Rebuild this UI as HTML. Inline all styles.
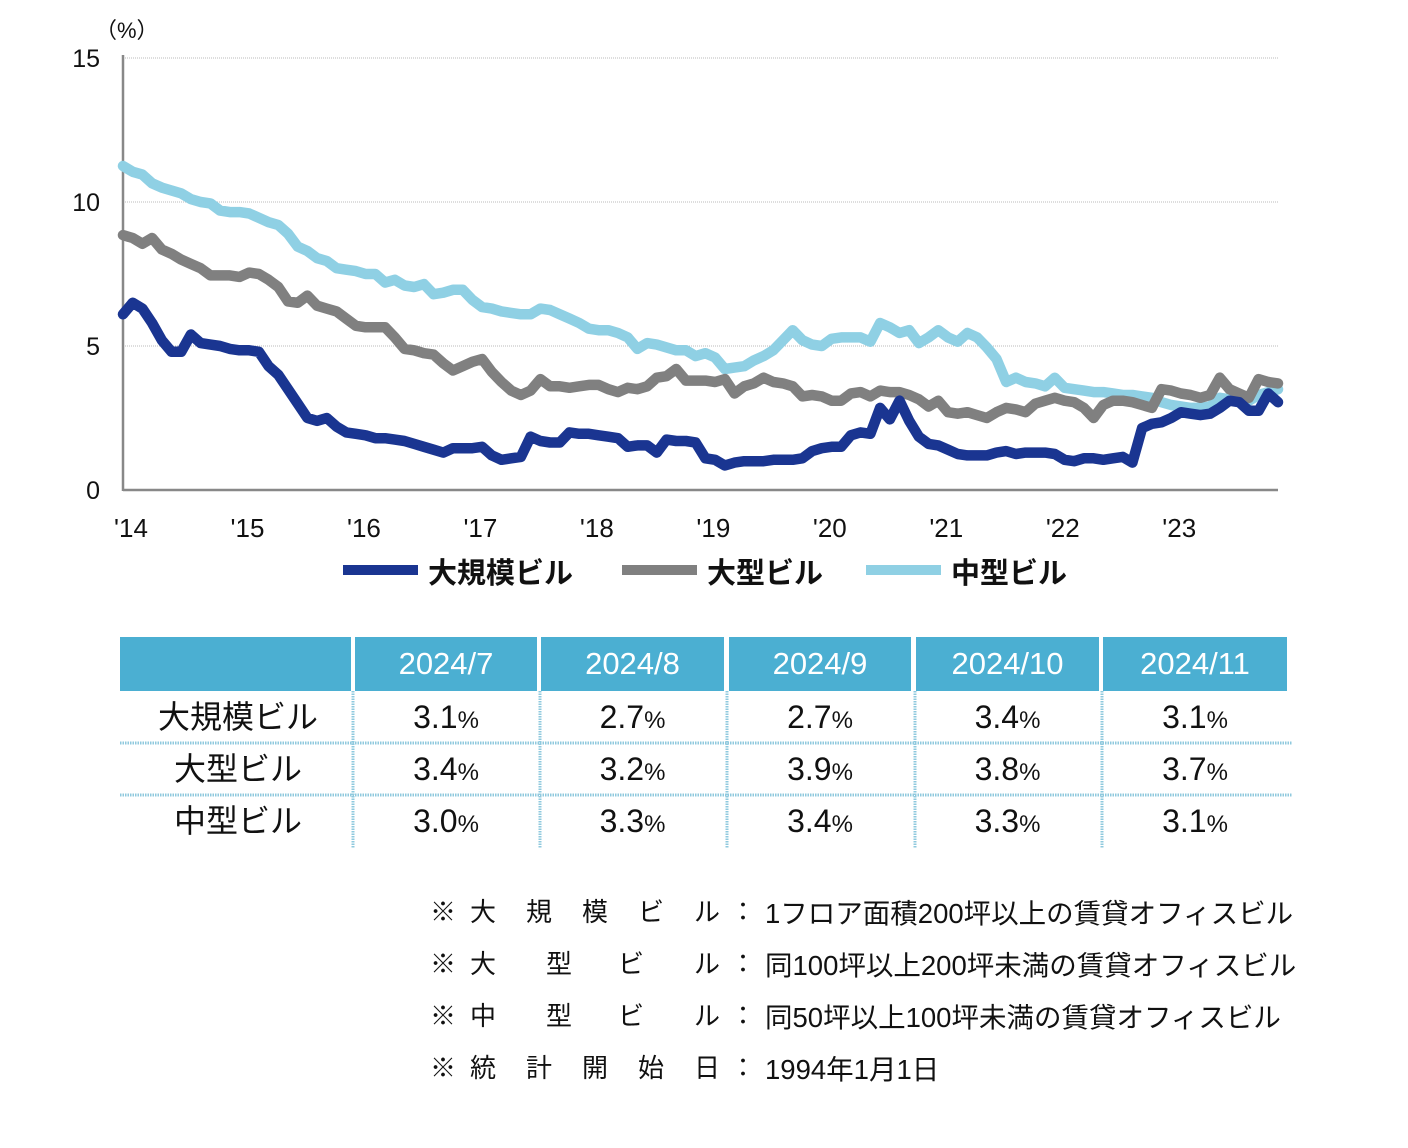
<!DOCTYPE html>
<html><head><meta charset="utf-8">
<style>
body{margin:0;width:1408px;height:1148px;background:#fff;position:relative;font-family:"Liberation Sans","Noto Sans CJK JP",sans-serif;overflow:hidden}
.abs{position:absolute}
.tbl div{position:absolute;box-sizing:border-box;text-align:center;font-family:"Liberation Sans","Noto Sans CJK JP",sans-serif}
.hd{background:#4bafd2;color:#fff;font-size:31px;line-height:54px;top:637px;height:54px}
.cell{font-size:32px;color:#111;height:52px;line-height:52px}
.cell small{font-size:24px}
.note{position:absolute;font-size:26px;color:#111;font-family:"Liberation Sans","Noto Sans CJK JP",sans-serif;white-space:nowrap}
.note.t{font-size:27.5px;top:-1px}
</style></head><body>
<svg id="chart" class="abs" style="left:0;top:0" width="1408" height="600"></svg>

<div class="tbl">
  <div class="hd" style="left:120px;width:231px"></div>
  <div class="hd" style="left:355px;width:182px">2024/7</div>
  <div class="hd" style="left:541px;width:183px">2024/8</div>
  <div class="hd" style="left:729px;width:182px">2024/9</div>
  <div class="hd" style="left:916px;width:183px">2024/10</div>
  <div class="hd" style="left:1103px;width:184px">2024/11</div>
</div>
<svg class="abs" style="left:0;top:0" width="1408" height="900">
  <g stroke="#8fc9de" stroke-width="3" stroke-dasharray="1.5 1">
    <line x1="120" y1="743" x2="1292" y2="743"/>
    <line x1="120" y1="795" x2="1292" y2="795"/>
    <line x1="353" y1="691" x2="353" y2="848"/>
    <line x1="540" y1="691" x2="540" y2="848"/>
    <line x1="727" y1="691" x2="727" y2="848"/>
    <line x1="915" y1="691" x2="915" y2="848"/>
    <line x1="1102" y1="691" x2="1102" y2="848"/>
  </g>
</svg>
<div id="tbody" class="tbl"></div>

<div>
  <div class="note" style="left:430px;top:892px">※</div><div class="note" style="left:470px;top:892px">大</div><div class="note" style="left:526px;top:892px">規</div><div class="note" style="left:582px;top:892px">模</div><div class="note" style="left:638px;top:892px">ビ</div><div class="note" style="left:694px;top:892px">ル</div><div class="note" style="left:730px;top:892px">：</div><div class="note t" style="left:765px;margin-top:892px">1フロア面積200坪以上の賃貸オフィスビル</div>
  <div class="note" style="left:430px;top:944px">※</div><div class="note" style="left:470px;top:944px">大</div><div class="note" style="left:546px;top:944px">型</div><div class="note" style="left:618px;top:944px">ビ</div><div class="note" style="left:694px;top:944px">ル</div><div class="note" style="left:730px;top:944px">：</div><div class="note t" style="left:765px;margin-top:944px">同100坪以上200坪未満の賃貸オフィスビル</div>
  <div class="note" style="left:430px;top:996px">※</div><div class="note" style="left:470px;top:996px">中</div><div class="note" style="left:546px;top:996px">型</div><div class="note" style="left:618px;top:996px">ビ</div><div class="note" style="left:694px;top:996px">ル</div><div class="note" style="left:730px;top:996px">：</div><div class="note t" style="left:765px;margin-top:996px">同50坪以上100坪未満の賃貸オフィスビル</div>
  <div class="note" style="left:430px;top:1048px">※</div><div class="note" style="left:470px;top:1048px">統</div><div class="note" style="left:526px;top:1048px">計</div><div class="note" style="left:582px;top:1048px">開</div><div class="note" style="left:638px;top:1048px">始</div><div class="note" style="left:694px;top:1048px">日</div><div class="note" style="left:730px;top:1048px">：</div><div class="note t" style="left:765px;margin-top:1048px">1994年1月1日</div>
</div>

<script>
const yearLabels = ["'14","'15","'16","'17","'18","'19","'20","'21","'22","'23"];
const yTicks = [0,5,10,15];
const seriesNames = ["大規模ビル","大型ビル","中型ビル"];
const largeScale = [6.1,6.5,6.3,5.8,5.2,4.8,4.8,5.4,5.1,5.05,5.0,4.9,
4.85,4.85,4.8,4.3,4.0,3.5,3.0,2.5,2.4,2.5,2.2,2.0,
1.95,1.9,1.8,1.8,1.75,1.7,1.6,1.5,1.4,1.3,1.45,1.45,
1.45,1.5,1.2,1.05,1.1,1.15,1.85,1.7,1.65,1.65,2.0,1.95,
1.95,1.9,1.85,1.8,1.5,1.55,1.55,1.3,1.75,1.7,1.7,1.65,
1.1,1.05,0.85,0.95,1.0,1.0,1.0,1.05,1.05,1.05,1.1,1.35,
1.45,1.5,1.5,1.9,2.0,1.95,2.85,2.45,3.1,2.4,1.85,1.6,
1.55,1.4,1.25,1.2,1.2,1.2,1.3,1.35,1.25,1.3,1.3,1.3,
1.25,1.05,1.0,1.1,1.1,1.05,1.1,1.15,0.95,2.15,2.3,2.35,
2.5,2.7,2.65,2.6,2.65,2.85,3.1,3.05,2.75,2.75,3.35,3.05];
const largeType = [8.85,8.75,8.55,8.75,8.35,8.2,8.0,7.85,7.7,7.45,7.45,7.45,
7.4,7.55,7.5,7.3,7.05,6.55,6.5,6.75,6.4,6.3,6.2,5.95,
5.7,5.65,5.65,5.65,5.3,4.9,4.85,4.75,4.7,4.4,4.15,4.3,
4.45,4.55,4.1,3.75,3.45,3.3,3.45,3.85,3.6,3.6,3.55,3.6,
3.65,3.65,3.5,3.4,3.55,3.5,3.6,3.9,3.95,4.2,3.8,3.8,
3.8,3.75,3.85,3.35,3.6,3.7,3.9,3.75,3.7,3.6,3.25,3.3,
3.25,3.1,3.1,3.35,3.4,3.25,3.45,3.4,3.4,3.3,3.15,2.9,
3.1,2.7,2.65,2.7,2.6,2.5,2.7,2.85,2.8,2.7,3.0,3.1,
3.2,3.1,3.05,2.85,2.5,2.95,3.1,3.1,3.05,2.95,2.85,3.5,
3.45,3.35,3.3,3.2,3.3,3.9,3.5,3.35,3.2,3.85,3.75,3.7];
const midType = [11.25,11.05,10.95,10.65,10.5,10.4,10.3,10.1,10.0,9.95,9.7,9.65,
9.65,9.6,9.45,9.3,9.2,8.9,8.45,8.3,8.05,7.95,7.7,7.65,
7.6,7.5,7.5,7.2,7.3,7.1,7.05,7.15,6.8,6.85,6.95,6.95,
6.6,6.35,6.3,6.2,6.15,6.1,6.1,6.3,6.25,6.1,5.95,5.8,
5.6,5.55,5.55,5.45,5.3,4.9,5.1,5.05,4.95,4.85,4.85,4.65,
4.75,4.6,4.2,4.25,4.3,4.5,4.65,4.85,5.2,5.55,5.2,5.05,
5.0,5.25,5.3,5.3,5.3,5.15,5.8,5.65,5.45,5.55,5.1,5.3,
5.55,5.3,5.15,5.45,5.3,4.95,4.55,3.75,3.9,3.75,3.7,3.6,
3.9,3.55,3.5,3.45,3.4,3.4,3.35,3.3,3.3,3.25,3.2,3.05,
2.95,2.9,2.85,2.85,2.9,3.2,3.15,3.1,3.1,3.3,3.4,3.5];
const tableMonths = ["2024/7","2024/8","2024/9","2024/10","2024/11"];
const tableLarge = [3.1,2.7,2.7,3.4,3.1];
const tableLargeType = [3.4,3.2,3.9,3.8,3.7];
const tableMid = [3.0,3.3,3.4,3.3,3.1];

const X0=123,X1=1278,Y0=490,Y15=58;
const n=largeScale.length;
function xs(i){return X0+i*(X1-X0)/(n-1);}
function ys(v){return Y0-(v/15)*(Y0-Y15);}
const NS="http://www.w3.org/2000/svg";
const svg=document.getElementById('chart');
function mk(tag,attrs,parent){const e=document.createElementNS(NS,tag);for(const k in attrs)e.setAttribute(k,attrs[k]);(parent||svg).appendChild(e);return e;}

yTicks.forEach(t=>{
  if(t>0){const g=mk('line',{x1:X0,x2:X1,y1:ys(t),y2:ys(t),stroke:'#bbb','stroke-width':1,'stroke-dasharray':'1 1'});
  
  }
  const tx=mk('text',{x:100,y:ys(t)+9,'text-anchor':'end','font-size':25,fill:'#111','font-family':'Liberation Sans, sans-serif'});
  tx.textContent=t;
  
  
});
const unit=mk('text',{x:95,y:38,'font-size':22,fill:'#111','font-family':'Liberation Sans, Noto Sans CJK JP, sans-serif'});
unit.textContent='（%）';


yearLabels.forEach((l,k)=>{
  const tx=mk('text',{x:xs(k*12)+8,y:537,'text-anchor':'middle','font-size':26,fill:'#111','font-family':'Liberation Sans, sans-serif'});
  tx.textContent=l;
  
  
});
const ya=mk('line',{x1:X0,x2:X0,y1:55,y2:Y0+1,stroke:'#888','stroke-width':2.5});


const xa=mk('line',{x1:X0,x2:X1,y1:Y0,y2:Y0,stroke:'#888','stroke-width':2.5});



const seriesData=[midType,largeType,largeScale];
const colors=['#8fd0e4','#808080','#1a3591'];
const names=['line-mid-type','line-large-type','line-large-scale'];
seriesData.forEach((d,s)=>{
  const p=mk('polyline',{points:d.map((v,i)=>xs(i).toFixed(1)+','+ys(v).toFixed(1)).join(' '),fill:'none',stroke:colors[s],'stroke-width':10.5,'stroke-linejoin':'round','stroke-linecap':'round'});
  
  
});
const legX=[343,622,866], legColors=['#1a3591','#808080','#8fd0e4'];
seriesNames.forEach((nm,k)=>{
  const l=mk('line',{x1:legX[k],x2:legX[k]+75,y1:570,y2:570,stroke:legColors[k],'stroke-width':10});
  
  
  const t=mk('text',{x:legX[k]+85,y:583,'font-size':29,fill:'#111','font-family':'Liberation Sans, Noto Sans CJK JP, sans-serif','font-weight':'bold'});
  t.textContent=nm;
  
  
});
const tb=document.getElementById('tbody');
const rows=[tableLarge,tableLargeType,tableMid];
const colL=[355,541,729,916,1103], colW=[182,183,182,183,184];
rows.forEach((r,ri)=>{
  const top=691+ri*52;
  const h=document.createElement('div');
  h.className='cell';h.style.left='120px';h.style.width='236px';h.style.top=top+'px';
  h.textContent=seriesNames[ri];
  
  
  tb.appendChild(h);
  r.forEach((v,ci)=>{
    const c=document.createElement('div');
    c.className='cell';c.style.left=colL[ci]+'px';c.style.width=colW[ci]+'px';c.style.top=top+'px';
    c.innerHTML=v.toFixed(1)+'<small>%</small>';
    
    
    tb.appendChild(c);
  });
});
</script>
</body></html>
